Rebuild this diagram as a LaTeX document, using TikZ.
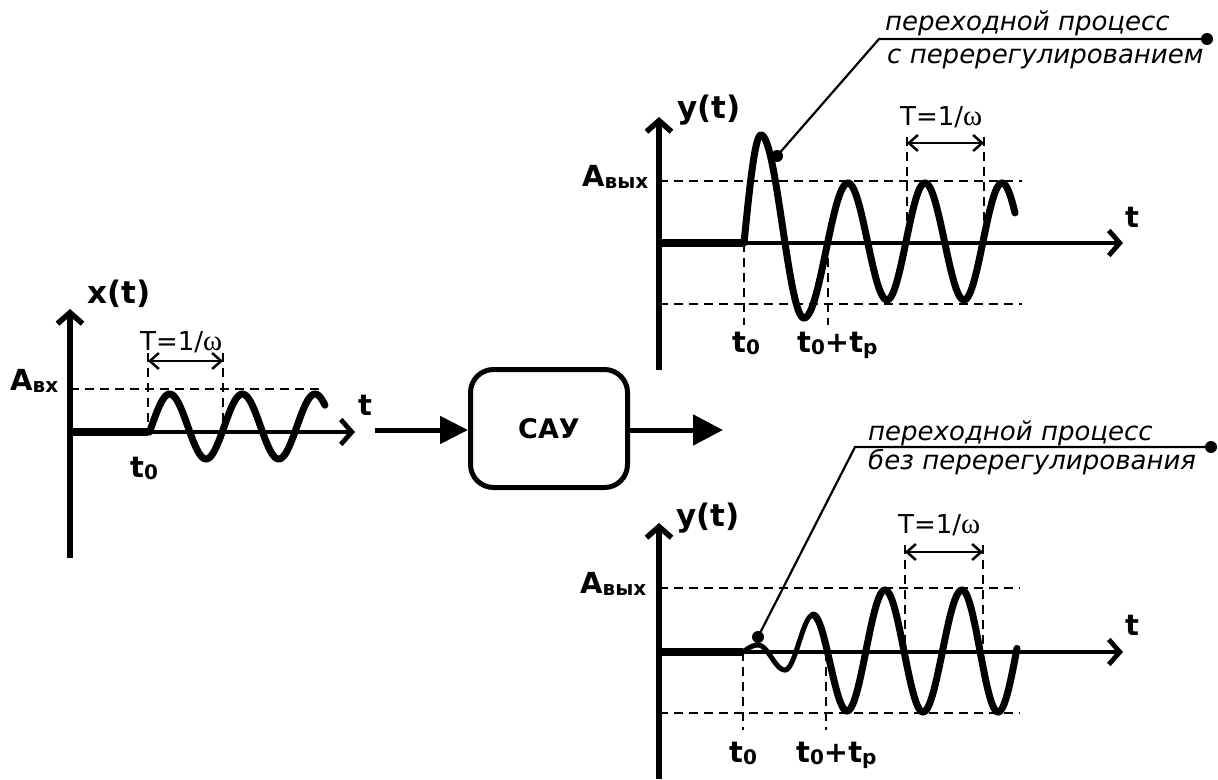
\documentclass[tikz,border=0pt]{standalone}
\usepackage{fontspec}
\setmainfont{DejaVu Sans}
\newfontfamily\omegafont{Liberation Serif}
\usetikzlibrary{arrows.meta}
\newcommand\lowsub[1]{\raisebox{-2.5pt}{\fontsize{20}{20}\selectfont #1}}
\newcommand\omg{{\omegafont\fontsize{29}{29}\selectfont ω}}
\begin{document}
\begin{tikzpicture}[x=1pt,y=-1pt,
  yaxis/.style={line width=5.5pt,-{Straight Barb[length=11pt,width=25pt]}},
  xaxis/.style={line width=4.8pt,-{Straight Barb[length=11pt,width=25pt]}},
  zeroseg/.style={line width=7.5pt},
  wave/.style={line width=7pt,line cap=round},
  thinwave/.style={line width=5pt,line cap=round},
  guide/.style={line width=2pt,dash pattern=on 9pt off 6pt},
  dimline/.style={line width=2.5pt,{Straight Barb[length=9pt,width=16pt]}-{Straight Barb[length=9pt,width=16pt]}},
  flow/.style={line width=5pt,-{Triangle[length=28pt,width=27pt]}},
  lead/.style={line width=2.2pt},
  dotn/.style={circle,fill=black,inner sep=0pt,minimum size=12pt},
  lbl/.style={inner sep=0pt,font=\bfseries\fontsize{29}{30}\selectfont},
  fnl/.style={inner sep=0pt,font=\bfseries\fontsize{31}{32}\selectfont},
  per/.style={inner sep=0pt,font=\fontsize{26}{28}\selectfont},
  note/.style={inner sep=0pt,font=\itshape\fontsize{26}{28}\selectfont},
  boxn/.style={draw,line width=5pt,rounded corners=23pt,minimum width=157pt,minimum height=118pt,inner sep=0pt,font=\bfseries\fontsize{27}{29}\selectfont}
]
\useasboundingbox (0,0) rectangle (1218,779);

% ---------------- left graph x(t) ----------------
\coordinate (LO) at (70,432);
\coordinate (LY) at (70,309);
\coordinate (LB) at (70,558);
\coordinate (LX) at (355,432);
\coordinate (LT0) at (148,432);
\draw[guide] (70,389) -- (322,389);
\draw[guide] (148,353) -- (LT0);
\draw[guide] (223,353) -- (223,432);
\draw[yaxis] (LB) -- (LY);
\draw[xaxis] (LO) -- (LX);
\draw[zeroseg] (LO) -- (LT0);
\draw[dimline] (148,361) -- (223,361);
\draw[wave] plot[domain=149.5:325,samples=120] (\x,{426.5-32.5*sin(4.952*(\x-151.5))});
\node[fnl,anchor=base west] (xt) at (87,303.5) {x(t)};
\node[lbl,anchor=base west] (lt) at (358,415) {t};
\node[lbl,anchor=base west] (lt0) at (130,477) {t\lowsub{0}};
\node[lbl,anchor=base west] (lA) at (10,390) {A\lowsub{вх}};
\node[per,anchor=base west] (lT) at (140,350) {T=1/\omg};

% ---------------- block ----------------
\node[boxn] (sau) at (549,428.5) {САУ};
\coordinate (fin) at (375,430);
\coordinate (fout) at (723,430);
\draw[flow] (fin) -- (sau.west |- fin);
\draw[line width=5pt,-{Triangle[length=30pt,width=30pt]}] (sau.east |- fout) -- (fout);

% ---------------- top right graph ----------------
\coordinate (TO) at (659,243);
\coordinate (TY) at (659,117);
\coordinate (TB) at (659,370);
\coordinate (TX) at (1123,243);
\coordinate (TT0) at (744,243);
\draw[guide] (659,181) -- (1022,181);
\draw[guide] (659,304) -- (1022,304);
\draw[guide] (TT0) -- (744,325);
\draw[guide] (828,243) -- (828,325);
\draw[guide] (907,137) -- (907,243);
\draw[guide] (984,137) -- (984,243);
\draw[yaxis] (TB) -- (TY);
\draw[xaxis] (TO) -- (TX);
\draw[zeroseg] (TO) -- (TT0);
\draw[dimline] (907,143) -- (984,143);
\draw[wave] plot[domain=744:761,samples=20] (\x,{243+(135-243)*sin(90/17*(\x-744))});
\foreach \xa/\ya/\xb/\yb/\xe in {761/135/804/318/804, 804/318/848/183/848, 848/183/887/300/887, 887/300/925/183/925, 925/183/964/300/964, 964/300/1002/183/1002, 1002/183/1040.5/300/1015}
  \draw[wave] plot[domain=\xa:\xe,samples=30] (\x,{(\ya+\yb)/2+(\ya-\yb)/2*cos(180/(\xb-\xa)*(\x-\xa))});
\node[fnl,anchor=base west] (yt1) at (677,118) {y(t)};
\node[lbl,anchor=base west] (tt1) at (1125,227) {t};
\node[lbl,anchor=base west] (A1) at (582,186) {A\lowsub{вых}};
\node[lbl,anchor=base west] (t01) at (732,352) {t\lowsub{0}};
\node[lbl,anchor=base west] (tp1) at (797,352) {t\lowsub{0}+t\lowsub{р}};
\node[per,anchor=base west] (T1) at (900,125) {T=1/\omg};
\node[dotn] (d1a) at (777,156) {};
\node[dotn] (d1b) at (1207,39) {};
\coordinate (k1) at (879,39);
\draw[lead] (d1a.center) -- (k1) -- (d1b.center);
\node[note,anchor=base west] (n1a) at (885,30) {переходной процесс};
\node[note,anchor=base west] (n1b) at (887,63) {с перерегулированием};

% ---------------- bottom right graph ----------------
\coordinate (BO) at (659,652);
\coordinate (BY) at (659,523);
\coordinate (BB) at (659,779);
\coordinate (BX) at (1123,652);
\coordinate (BT0) at (743,652);
\draw[guide] (659,588) -- (1020,588);
\draw[guide] (659,713) -- (1020,713);
\draw[guide] (BT0) -- (743,730);
\draw[guide] (826,652) -- (826,730);
\draw[guide] (905,545) -- (905,652);
\draw[guide] (983,545) -- (983,652);
\draw[yaxis] (BB) -- (BY);
\draw[xaxis] (BO) -- (BX);
\draw[zeroseg] (BO) -- (BT0);
\draw[dimline] (905,552) -- (983,552);
\draw[thinwave] plot[domain=743:758,samples=20] (\x,{652+(645-652)*sin(90/15*(\x-743))});
\foreach \xa/\ya/\xb/\yb/\xe in {758/645/785/670/785, 785/670/813/615/813}
  \draw[thinwave] plot[domain=\xa:\xe,samples=30] (\x,{(\ya+\yb)/2+(\ya-\yb)/2*cos(180/(\xb-\xa)*(\x-\xa))});
\foreach \xa/\ya/\xb/\yb/\xe in {813/615/847/711/847, 847/711/885/590/885, 885/590/923/712/923, 923/712/962/590/962, 962/590/998/712/998, 998/712/1035/590/1017}
  \draw[wave] plot[domain=\xa:\xe,samples=30] (\x,{(\ya+\yb)/2+(\ya-\yb)/2*cos(180/(\xb-\xa)*(\x-\xa))});
\node[fnl,anchor=base west] (yt2) at (676,526) {y(t)};
\node[lbl,anchor=base west] (tt2) at (1125,635) {t};
\node[lbl,anchor=base west] (A2) at (580,593) {A\lowsub{вых}};
\node[lbl,anchor=base west] (t02) at (729,762) {t\lowsub{0}};
\node[lbl,anchor=base west] (tp2) at (796,762) {t\lowsub{0}+t\lowsub{р}};
\node[per,anchor=base west] (T2) at (898,533) {T=1/\omg};
\node[dotn] (d2a) at (758,637) {};
\node[dotn] (d2b) at (1211,447) {};
\coordinate (k2) at (855,447);
\draw[lead] (d2a.center) -- (k2) -- (d2b.center);
\node[note,anchor=base west] (n2a) at (868,440) {переходной процесс};
\node[note,anchor=base west] (n2b) at (868,469) {без перерегулирования};
\end{tikzpicture}
\end{document}
